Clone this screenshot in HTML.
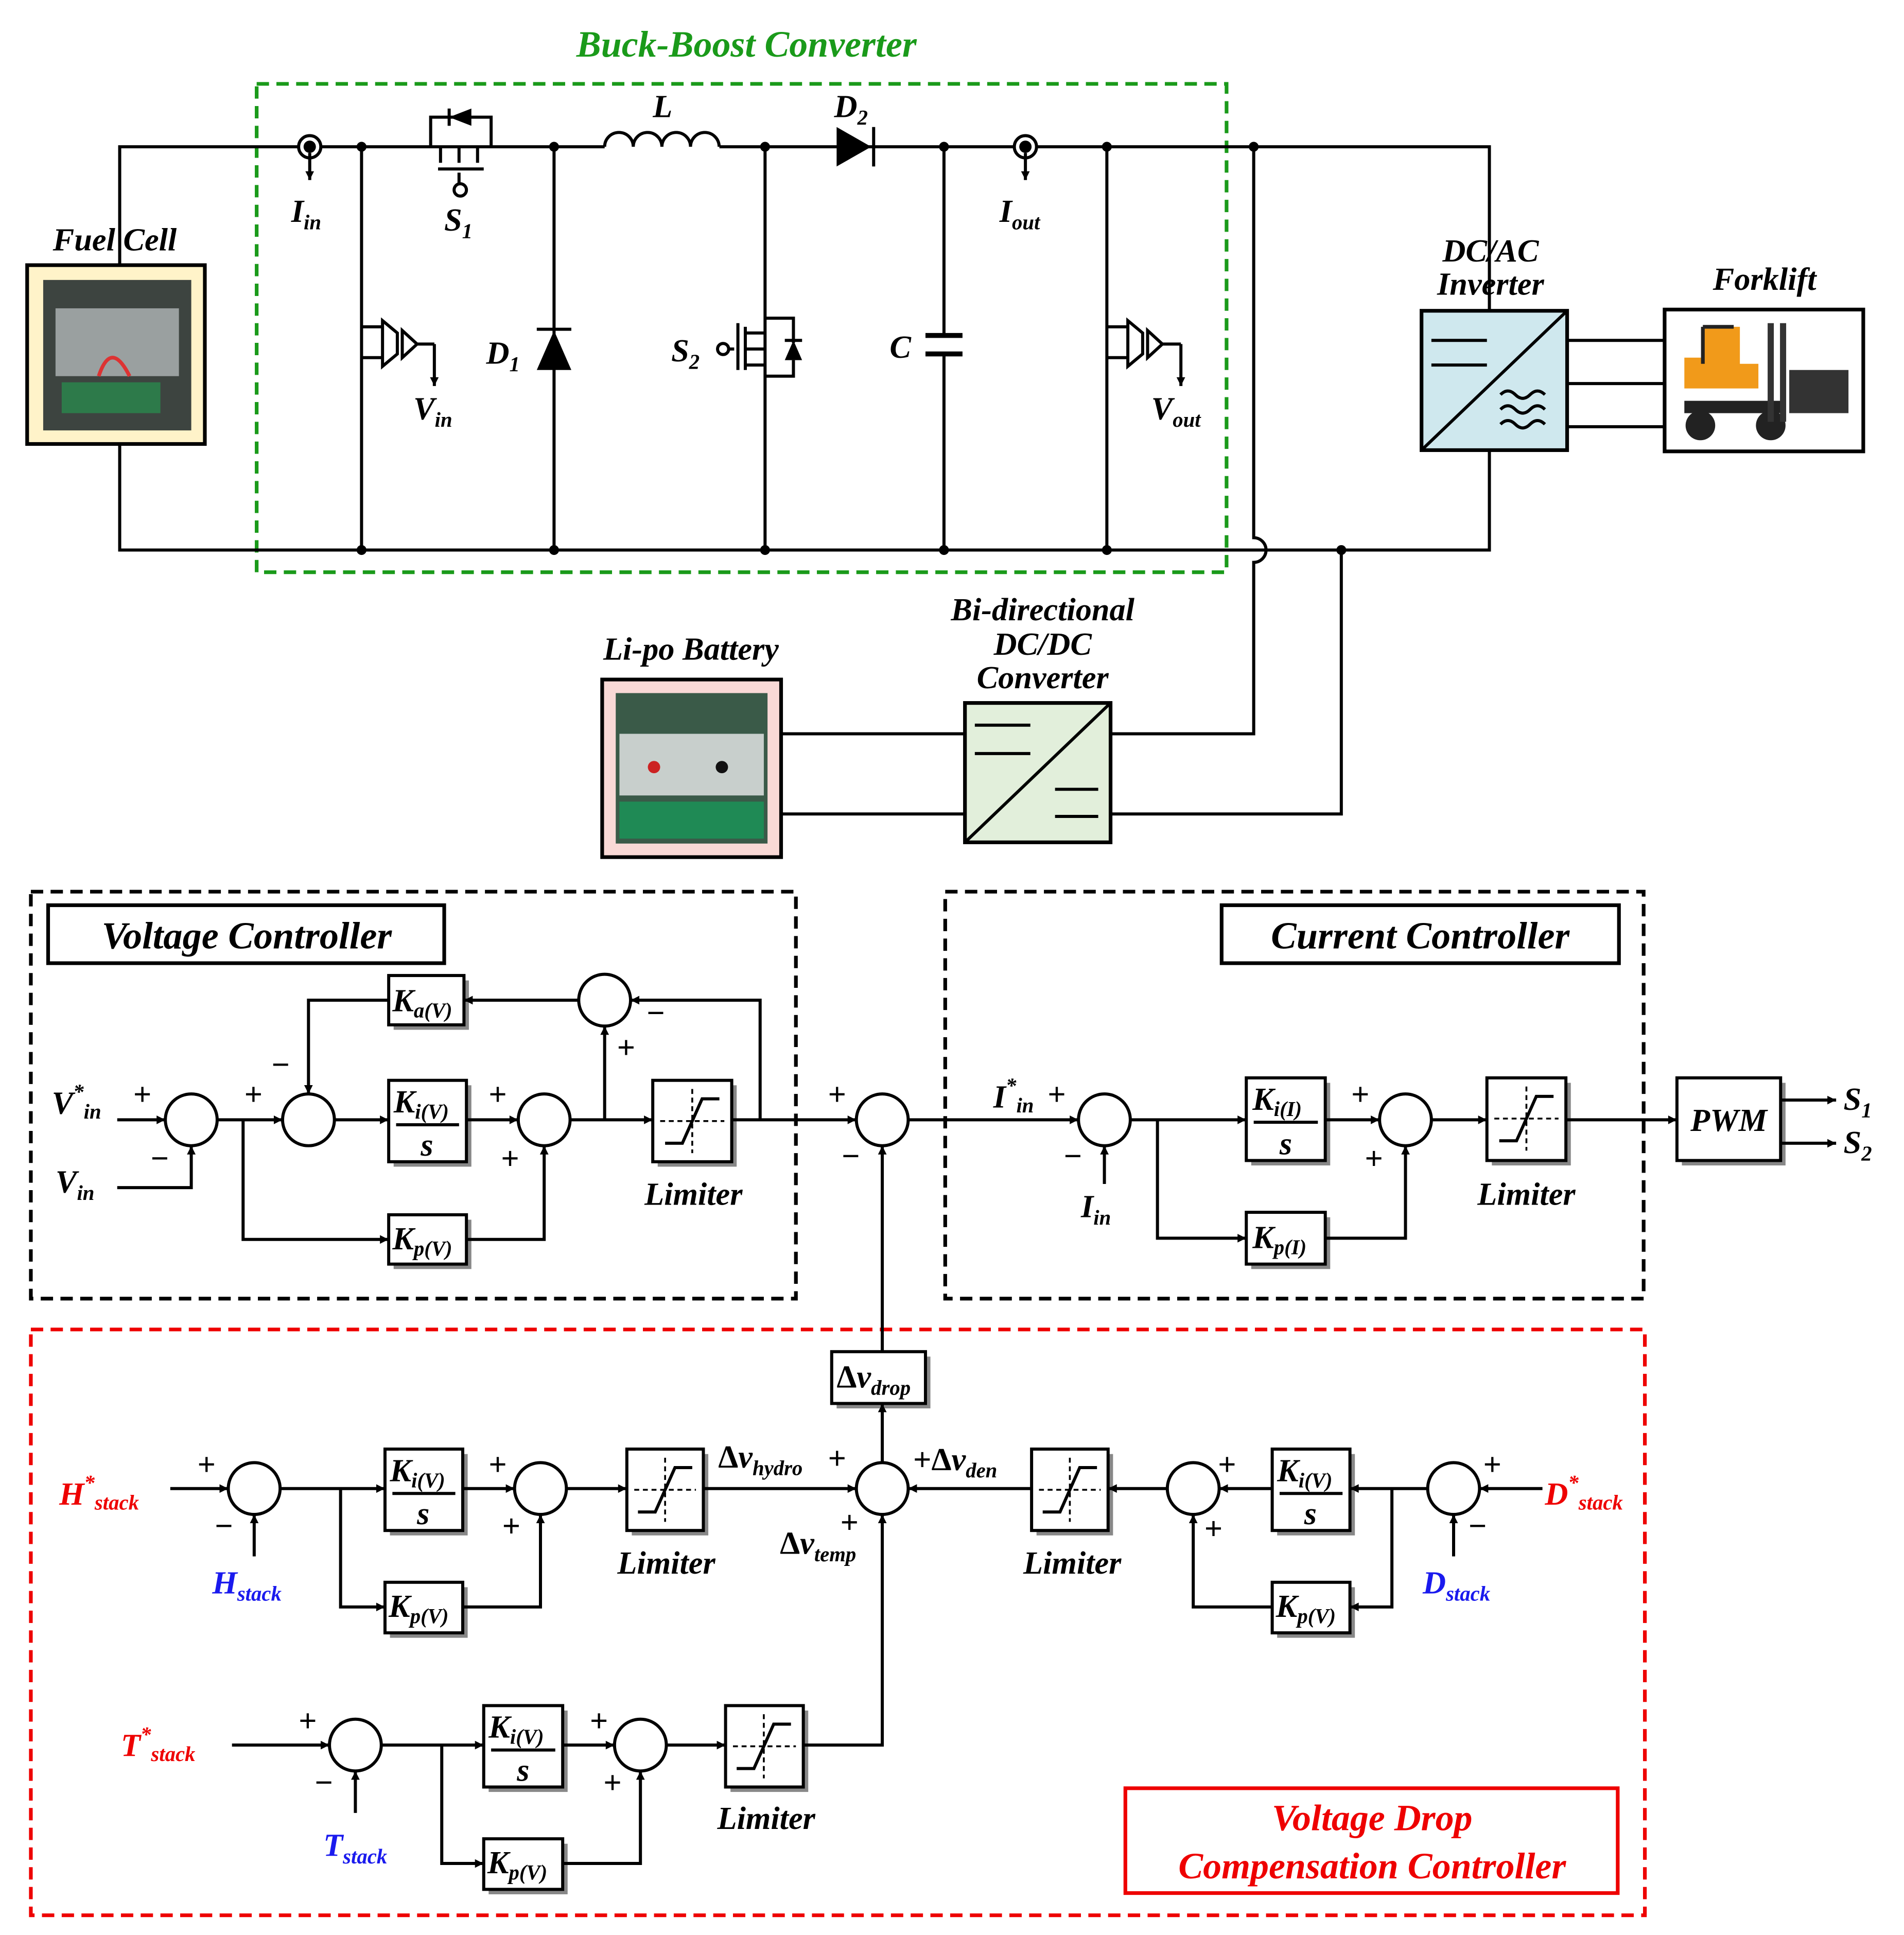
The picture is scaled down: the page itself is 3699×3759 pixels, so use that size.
<!DOCTYPE html>
<html><head><meta charset="utf-8"><style>
html,body{margin:0;padding:0;background:#fff;}
svg{display:block;}
text{font-family:"Liberation Serif",serif;font-weight:bold;font-style:italic;}
</style></head><body>
<svg width="3699" height="3759" viewBox="0 0 1543 1569" preserveAspectRatio="none" xmlns="http://www.w3.org/2000/svg">
<defs>
<marker id="a" viewBox="0 0 10 10" refX="10" refY="5" markerWidth="5" markerHeight="5" orient="auto" markerUnits="userSpaceOnUse" style="overflow:visible">
<path d="M0,0 L10,5 L0,10 z" fill="#000" transform="scale(1.4) translate(-3,-1.4)"/>
</marker>
</defs>
<style>
.w{stroke:#000;stroke-width:2.5;fill:none}
.am{marker-end:url(#a)}
.bx{fill:#fff;stroke:#000;stroke-width:2.5}
.sh{fill:#888}
.s{fill:#fff;stroke:#000;stroke-width:2.5}
.t{font-size:26px}
.sub{font-size:17px}
.pm{font-size:26px;font-style:normal}
</style>

<!-- ================= CIRCUIT ================= -->
<rect x="208" y="68" width="786" height="396" fill="none" stroke="#1a9a1a" stroke-width="3" stroke-dasharray="10,6"/>
<text x="605" y="46" text-anchor="middle" fill="#1a9a1a" style="font-size:30px">Buck-Boost Converter</text>

<path class="w" d="M97,215 V119 H490 M583,119 H1207 V252"/>
<path class="w" d="M490,119 a11.6,11.6 0 0 1 23.2,0 a11.6,11.6 0 0 1 23.2,0 a11.6,11.6 0 0 1 23.2,0 a11.6,11.6 0 0 1 23.2,0"/>
<text x="537" y="95" class="t" text-anchor="middle">L</text>
<path class="w" d="M97,360 V446 H1207 V365"/>
<rect x="22" y="215" width="144" height="145" fill="#fff3c9" stroke="#000" stroke-width="3"/>
<rect x="35" y="227" width="120" height="122" fill="#3d4440"/>
<rect x="45" y="250" width="100" height="55" fill="#9aa0a0"/>
<rect x="50" y="310" width="80" height="25" fill="#2d7a4a"/>
<path d="M80,305 q10,-30 25,0" stroke="#d33" stroke-width="3" fill="none"/>
<text x="93" y="203" class="t" text-anchor="middle">Fuel Cell</text>

<circle cx="251" cy="119" r="9" fill="#fff" stroke="#000" stroke-width="2.5"/>
<circle cx="251" cy="119" r="5" fill="#000"/>
<path class="w am" d="M251,124 V146"/>
<text x="236" y="180" class="t">I<tspan class="sub" dy="6">in</tspan></text>
<circle cx="831" cy="119" r="9" fill="#fff" stroke="#000" stroke-width="2.5"/>
<circle cx="831" cy="119" r="5" fill="#000"/>
<path class="w am" d="M831,124 V146"/>
<text x="810" y="180" class="t">I<tspan class="sub" dy="6">out</tspan></text>

<path class="w" d="M349,119 V95 H398 V119"/>
<path d="M364,95 L382,88 L382,102 z" fill="#000"/>
<path class="w" d="M364,88 V102"/>
<path class="w" d="M357,119 V132 M372,119 V132 M387,119 V132 M355,137 H392 M372,140 V150"/>
<circle cx="373" cy="154" r="5" fill="#fff" stroke="#000" stroke-width="2.5"/>
<text x="360" y="187" class="t">S<tspan class="sub" dy="6">1</tspan></text>

<path d="M678,103 L706,119 L678,135 z" fill="#000"/>
<path class="w" d="M708,103 V135"/>
<text x="676" y="95" class="t">D<tspan class="sub" dy="6">2</tspan></text>

<path class="w" d="M293,119 V446 M449,119 V446 M620,119 V446 M765,119 V272 M765,288 V446 M897,119 V446"/>
<g fill="#000"><circle cx="293" cy="119" r="4"/><circle cx="449" cy="119" r="4"/><circle cx="620" cy="119" r="4"/><circle cx="765" cy="119" r="4"/><circle cx="897" cy="119" r="4"/><circle cx="1016" cy="119" r="4"/>
<circle cx="293" cy="446" r="4"/><circle cx="449" cy="446" r="4"/><circle cx="620" cy="446" r="4"/><circle cx="765" cy="446" r="4"/><circle cx="897" cy="446" r="4"/><circle cx="1087" cy="446" r="4"/></g>

<path class="w" d="M293,265 H310 M293,290 H310"/>
<path class="w" d="M310,260 V297 L322,287 V270 z"/>
<path class="w" d="M326,268 V290 L338,279 z M338,279 H352"/>
<path class="w am" d="M352,279 V313"/>
<text x="335" y="340" class="t">V<tspan class="sub" dy="6">in</tspan></text>
<path class="w" d="M897,265 H914 M897,290 H914"/>
<path class="w" d="M914,260 V297 L926,287 V270 z"/>
<path class="w" d="M930,268 V290 L942,279 z M942,279 H957"/>
<path class="w am" d="M957,279 V313"/>
<text x="933" y="340" class="t">V<tspan class="sub" dy="6">out</tspan></text>

<path d="M435,300 L449,268 L463,300 z" fill="#000"/>
<path class="w" d="M435,267 H463"/>
<text x="394" y="295" class="t">D<tspan class="sub" dy="6">1</tspan></text>

<path class="w" d="M620,258 H643 V278 M643,292 V305 H620 M598,262 V300 M604,265 V300 M604,270 H620 M604,283 H620 M604,296 H620 M595,283 H591"/>
<path d="M636,292 L643,276 L650,292 z" fill="#000"/>
<path class="w" d="M636,276 H650"/>
<circle cx="586" cy="283" r="4.5" fill="#fff" stroke="#000" stroke-width="2.5"/>
<text x="544" y="293" class="t">S<tspan class="sub" dy="6">2</tspan></text>

<path d="M750,272 H780 M750,287 H780" stroke="#000" stroke-width="4"/>
<text x="721" y="290" class="t">C</text>

<rect x="1152" y="252" width="118" height="113" fill="#cfe8ee" stroke="#000" stroke-width="3"/>
<path class="w" d="M1152,365 L1270,252"/>
<path class="w" d="M1160,276 H1205 M1160,296 H1205"/>
<path class="w" d="M1216,320 q6,-6 12,0 t12,0 t12,0 M1216,332 q6,-6 12,0 t12,0 t12,0 M1216,344 q6,-6 12,0 t12,0 t12,0"/>
<text x="1208" y="212" class="t" text-anchor="middle">DC/AC</text>
<text x="1208" y="239" class="t" text-anchor="middle">Inverter</text>
<path class="w" d="M1270,276 H1349 M1270,311 H1349 M1270,346 H1349"/>
<rect x="1349" y="251" width="161" height="115" fill="#fff" stroke="#000" stroke-width="3"/>
<path d="M1365,315 h60 v-20 h-15 v-30 h-30 v25 h-15 z" fill="#f19a1a"/>
<path d="M1380,265 h25 M1380,265 v30" stroke="#222" stroke-width="3"/>
<circle cx="1378" cy="345" r="12" fill="#222"/><circle cx="1435" cy="345" r="12" fill="#222"/>
<path d="M1365,330 h80" stroke="#222" stroke-width="10"/>
<path d="M1435,262 v80 M1445,262 v80" stroke="#333" stroke-width="5"/>
<rect x="1450" y="300" width="48" height="35" fill="#333"/>
<text x="1430" y="235" class="t" text-anchor="middle">Forklift</text>

<rect x="488" y="551" width="145" height="144" fill="#f9d9d6" stroke="#000" stroke-width="3"/>
<rect x="499" y="562" width="123" height="122" fill="#3a5a48"/>
<rect x="502" y="595" width="117" height="50" fill="#c8cfcc"/>
<circle cx="530" cy="622" r="5" fill="#c22"/><circle cx="585" cy="622" r="5" fill="#111"/>
<rect x="502" y="650" width="117" height="30" fill="#1f8a55"/>
<text x="560" y="535" class="t" text-anchor="middle">Li-po Battery</text>

<rect x="782" y="570" width="118" height="113" fill="#e2efdb" stroke="#000" stroke-width="3"/>
<path class="w" d="M782,683 L900,570"/>
<path class="w" d="M790,588 H835 M790,611 H835 M855,640 H890 M855,662 H890"/>
<text x="845" y="503" class="t" text-anchor="middle">Bi-directional</text>
<text x="845" y="531" class="t" text-anchor="middle">DC/DC</text>
<text x="845" y="558" class="t" text-anchor="middle">Converter</text>
<path class="w" d="M633,595 H782 M633,660 H782"/>
<path class="w" d="M900,595 H1016 V456 A10,10 0 0 0 1016,436 V119"/>
<path class="w" d="M900,660 H1087 V446"/>

<!-- ================= CONTROL ================= -->
<rect x="25" y="723" width="620" height="330" fill="none" stroke="#000" stroke-width="3" stroke-dasharray="10,6"/>
<rect x="39" y="734" width="321" height="47" fill="#fff" stroke="#000" stroke-width="3"/>
<text x="200" y="769" text-anchor="middle" style="font-size:31px">Voltage Controller</text>
<rect x="766" y="723" width="566" height="330" fill="none" stroke="#000" stroke-width="3" stroke-dasharray="10,6"/>
<rect x="990" y="734" width="322" height="47" fill="#fff" stroke="#000" stroke-width="3"/>
<text x="1151" y="769" text-anchor="middle" style="font-size:31px">Current Controller</text>
<rect x="25" y="1078" width="1308" height="475" fill="none" stroke="#e00" stroke-width="3" stroke-dasharray="10,6"/>
<rect x="912" y="1450" width="399" height="85" fill="#fff" stroke="#e00" stroke-width="3"/>
<text x="1112" y="1484" text-anchor="middle" fill="#e00" style="font-size:30px">Voltage Drop</text>
<text x="1112" y="1523" text-anchor="middle" fill="#e00" style="font-size:30px">Compensation Controller</text>

<g>
<rect class="sh" x="319" y="880" width="63" height="66"/><rect class="bx" x="315" y="876" width="63" height="66"/>
<text x="319" y="902" class="t">K<tspan class="sub" dy="5">i(V)</tspan></text><path class="w" d="M321,912 H372"/><text x="346" y="937" class="t" text-anchor="middle">s</text>
<rect class="sh" x="319" y="795" width="61" height="40"/><rect class="bx" x="315" y="791" width="61" height="40"/>
<text x="318" y="820" class="t">K<tspan class="sub" dy="5">a(V)</tspan></text>
<rect class="sh" x="319" y="989" width="63" height="40"/><rect class="bx" x="315" y="985" width="63" height="40"/>
<text x="318" y="1013" class="t">K<tspan class="sub" dy="5">p(V)</tspan></text>
<rect class="sh" x="1014" y="878" width="64" height="67"/><rect class="bx" x="1010" y="874" width="64" height="67"/>
<text x="1015" y="900" class="t">K<tspan class="sub" dy="5">i(I)</tspan></text><path class="w" d="M1016,910 H1068"/><text x="1042" y="936" class="t" text-anchor="middle">s</text>
<rect class="sh" x="1014" y="987" width="64" height="42"/><rect class="bx" x="1010" y="983" width="64" height="42"/>
<text x="1015" y="1012" class="t">K<tspan class="sub" dy="5">p(I)</tspan></text>
<rect class="sh" x="1363" y="878" width="84" height="67"/><rect class="bx" x="1359" y="874" width="84" height="67"/>
<text x="1401" y="917" class="t" text-anchor="middle">PWM</text>
<rect class="sh" x="678" y="1100" width="76" height="42"/><rect class="bx" x="674" y="1096" width="76" height="42"/>
<text x="678" y="1125" class="t" style="font-style:normal">Δ<tspan style="font-style:italic">v</tspan><tspan class="sub" dy="6" style="font-style:italic">drop</tspan></text>
<rect class="sh" x="316" y="1179" width="63" height="66"/><rect class="bx" x="312" y="1175" width="63" height="66"/>
<text x="316" y="1201" class="t">K<tspan class="sub" dy="5">i(V)</tspan></text><path class="w" d="M318,1211 H369"/><text x="343" y="1236" class="t" text-anchor="middle">s</text>
<rect class="sh" x="316" y="1287" width="63" height="41"/><rect class="bx" x="312" y="1283" width="63" height="41"/>
<text x="315" y="1311" class="t">K<tspan class="sub" dy="5">p(V)</tspan></text>
<rect class="sh" x="1035" y="1179" width="63" height="66"/><rect class="bx" x="1031" y="1175" width="63" height="66"/>
<text x="1035" y="1201" class="t">K<tspan class="sub" dy="5">i(V)</tspan></text><path class="w" d="M1037,1211 H1088"/><text x="1062" y="1236" class="t" text-anchor="middle">s</text>
<rect class="sh" x="1035" y="1287" width="63" height="41"/><rect class="bx" x="1031" y="1283" width="63" height="41"/>
<text x="1034" y="1311" class="t">K<tspan class="sub" dy="5">p(V)</tspan></text>
<rect class="sh" x="396" y="1387" width="64" height="66"/><rect class="bx" x="392" y="1383" width="64" height="66"/>
<text x="396" y="1409" class="t">K<tspan class="sub" dy="5">i(V)</tspan></text><path class="w" d="M398,1419 H450"/><text x="424" y="1444" class="t" text-anchor="middle">s</text>
<rect class="sh" x="396" y="1495" width="64" height="41"/><rect class="bx" x="392" y="1491" width="64" height="41"/>
<text x="395" y="1519" class="t">K<tspan class="sub" dy="5">p(V)</tspan></text>
</g>

<g>
<rect class="sh" x="533" y="880" width="64" height="66"/><rect class="bx" x="529" y="876" width="64" height="66"/>
<path class="w" d="M539,927 H553 L569,891 H583"/><path d="M561,883 V935 M535,909 H587" stroke="#000" stroke-width="1.5" stroke-dasharray="4,3"/>
<rect class="sh" x="1209" y="878" width="64" height="67"/><rect class="bx" x="1205" y="874" width="64" height="67"/>
<path class="w" d="M1215,925 H1229 L1245,889 H1259"/><path d="M1237,881 V933 M1211,907 H1263" stroke="#000" stroke-width="1.5" stroke-dasharray="4,3"/>
<rect class="sh" x="512" y="1179" width="62" height="66"/><rect class="bx" x="508" y="1175" width="62" height="66"/>
<path class="w" d="M517,1226 H531 L547,1190 H561"/><path d="M539,1182 V1234 M514,1208 H564" stroke="#000" stroke-width="1.5" stroke-dasharray="4,3"/>
<rect class="sh" x="840" y="1179" width="62" height="66"/><rect class="bx" x="836" y="1175" width="62" height="66"/>
<path class="w" d="M845,1226 H859 L875,1190 H889"/><path d="M867,1182 V1234 M842,1208 H892" stroke="#000" stroke-width="1.5" stroke-dasharray="4,3"/>
<rect class="sh" x="592" y="1387" width="63" height="66"/><rect class="bx" x="588" y="1383" width="63" height="66"/>
<path class="w" d="M597,1434 H611 L627,1398 H641"/><path d="M619,1390 V1442 M594,1416 H645" stroke="#000" stroke-width="1.5" stroke-dasharray="4,3"/>
</g>
<text x="562" y="977" class="t" text-anchor="middle">Limiter</text>
<text x="1237" y="977" class="t" text-anchor="middle">Limiter</text>
<text x="540" y="1276" class="t" text-anchor="middle">Limiter</text>
<text x="869" y="1276" class="t" text-anchor="middle">Limiter</text>
<text x="621" y="1483" class="t" text-anchor="middle">Limiter</text>

<g>
<circle class="s" cx="155" cy="908" r="21"/><circle class="s" cx="250" cy="908" r="21"/><circle class="s" cx="441" cy="908" r="21"/><circle class="s" cx="490" cy="811" r="21"/>
<circle class="s" cx="715" cy="908" r="21"/><circle class="s" cx="895" cy="908" r="21"/><circle class="s" cx="1139" cy="908" r="21"/>
<circle class="s" cx="715" cy="1207" r="21"/><circle class="s" cx="206" cy="1207" r="21"/><circle class="s" cx="438" cy="1207" r="21"/>
<circle class="s" cx="967" cy="1207" r="21"/><circle class="s" cx="1178" cy="1207" r="21"/>
<circle class="s" cx="288" cy="1415" r="21"/><circle class="s" cx="519" cy="1415" r="21"/>
</g>

<path class="w am" d="M95,908 H134"/>
<path class="w am" d="M95,963 H155 V929"/>
<path class="w am" d="M176,908 H229"/>
<path class="w am" d="M197,908 V1005 H315"/>
<path class="w am" d="M315,811 H250 V887"/>
<path class="w am" d="M271,908 H315"/>
<path class="w am" d="M378,908 H420"/>
<path class="w am" d="M378,1005 H441 V929"/>
<path class="w am" d="M462,908 H529"/>
<path class="w am" d="M490,908 V832"/>
<path class="w am" d="M593,908 H694"/>
<path class="w am" d="M616,908 V811 H511"/>
<path class="w am" d="M469,811 H376"/>
<text x="42" y="903" class="t">V<tspan class="sub" dy="-12">*</tspan><tspan class="sub" dy="16">in</tspan></text>
<text x="45" y="967" class="t">V<tspan class="sub" dy="6">in</tspan></text>
<text x="108" y="896" class="pm">+</text><text x="122" y="948" class="pm">−</text>
<text x="198" y="896" class="pm">+</text><text x="220" y="872" class="pm">−</text>
<text x="396" y="896" class="pm">+</text><text x="406" y="948" class="pm">+</text>
<text x="500" y="858" class="pm">+</text><text x="524" y="830" class="pm">−</text>
<text x="671" y="896" class="pm">+</text><text x="682" y="946" class="pm">−</text>

<path class="w am" d="M736,908 H874"/>
<path class="w am" d="M895,960 V929"/>
<path class="w am" d="M916,908 H1010"/>
<path class="w am" d="M938,908 V1004 H1010"/>
<path class="w am" d="M1074,908 H1118"/>
<path class="w am" d="M1074,1004 H1139 V929"/>
<path class="w am" d="M1160,908 H1205"/>
<path class="w am" d="M1269,908 H1359"/>
<path class="w am" d="M1443,892 H1488"/>
<path class="w am" d="M1443,927 H1488"/>
<text x="805" y="898" class="t">I<tspan class="sub" dy="-12">*</tspan><tspan class="sub" dy="16">in</tspan></text>
<text x="849" y="896" class="pm">+</text><text x="862" y="946" class="pm">−</text>
<text x="876" y="987" class="t">I<tspan class="sub" dy="6">in</tspan></text>
<text x="1095" y="896" class="pm">+</text><text x="1106" y="948" class="pm">+</text>
<text x="1494" y="900" class="t">S<tspan class="sub" dy="6">1</tspan></text>
<text x="1494" y="935" class="t">S<tspan class="sub" dy="6">2</tspan></text>

<path class="w am" d="M715,1096 V929"/>
<path class="w am" d="M715,1186 V1138"/>

<path class="w am" d="M138,1207 H185"/>
<path class="w am" d="M206,1262 V1228"/>
<path class="w am" d="M227,1207 H312"/>
<path class="w am" d="M276,1207 V1303 H312"/>
<path class="w am" d="M375,1207 H417"/>
<path class="w am" d="M375,1303 H438 V1228"/>
<path class="w am" d="M459,1207 H508"/>
<path class="w am" d="M570,1207 H694"/>
<text x="48" y="1220" class="t" fill="#e00">H<tspan class="sub" dy="-12">*</tspan><tspan class="sub" dy="16">stack</tspan></text>
<text x="172" y="1292" class="t" fill="#1a1aee">H<tspan class="sub" dy="6">stack</tspan></text>
<text x="160" y="1196" class="pm">+</text><text x="174" y="1246" class="pm">−</text>
<text x="396" y="1196" class="pm">+</text><text x="407" y="1246" class="pm">+</text>
<text x="582" y="1190" class="t" style="font-style:normal">Δ<tspan style="font-style:italic">v</tspan><tspan class="sub" dy="6" style="font-style:italic">hydro</tspan></text>
<text x="671" y="1191" class="pm">+</text>
<text x="632" y="1260" class="t" style="font-style:normal">Δ<tspan style="font-style:italic">v</tspan><tspan class="sub" dy="6" style="font-style:italic">temp</tspan></text>
<text x="681" y="1243" class="pm">+</text>

<path class="w am" d="M1250,1207 H1199"/>
<path class="w am" d="M1178,1262 V1228"/>
<path class="w am" d="M1157,1207 H1094"/>
<path class="w am" d="M1128,1207 V1303 H1094"/>
<path class="w am" d="M1031,1207 H988"/>
<path class="w am" d="M1031,1303 H967 V1228"/>
<path class="w am" d="M946,1207 H898"/>
<path class="w am" d="M836,1207 H736"/>
<text x="1252" y="1220" class="t" fill="#e00">D<tspan class="sub" dy="-12">*</tspan><tspan class="sub" dy="16">stack</tspan></text>
<text x="1153" y="1292" class="t" fill="#1a1aee">D<tspan class="sub" dy="6">stack</tspan></text>
<text x="1202" y="1196" class="pm">+</text><text x="1190" y="1246" class="pm">−</text>
<text x="987" y="1196" class="pm">+</text><text x="976" y="1248" class="pm">+</text>
<text x="740" y="1192" class="t" style="font-style:normal">+Δ<tspan style="font-style:italic">v</tspan><tspan class="sub" dy="6" style="font-style:italic">den</tspan></text>

<path class="w am" d="M188,1415 H267"/>
<path class="w am" d="M288,1470 V1436"/>
<path class="w am" d="M309,1415 H392"/>
<path class="w am" d="M358,1415 V1511 H392"/>
<path class="w am" d="M456,1415 H498"/>
<path class="w am" d="M456,1511 H519 V1436"/>
<path class="w am" d="M540,1415 H588"/>
<path class="w am" d="M651,1415 H715 V1228"/>
<text x="98" y="1424" class="t" fill="#e00">T<tspan class="sub" dy="-12">*</tspan><tspan class="sub" dy="16">stack</tspan></text>
<text x="262" y="1505" class="t" fill="#1a1aee">T<tspan class="sub" dy="6">stack</tspan></text>
<text x="242" y="1404" class="pm">+</text><text x="255" y="1454" class="pm">−</text>
<text x="478" y="1404" class="pm">+</text><text x="489" y="1454" class="pm">+</text>
</svg>
</body></html>
